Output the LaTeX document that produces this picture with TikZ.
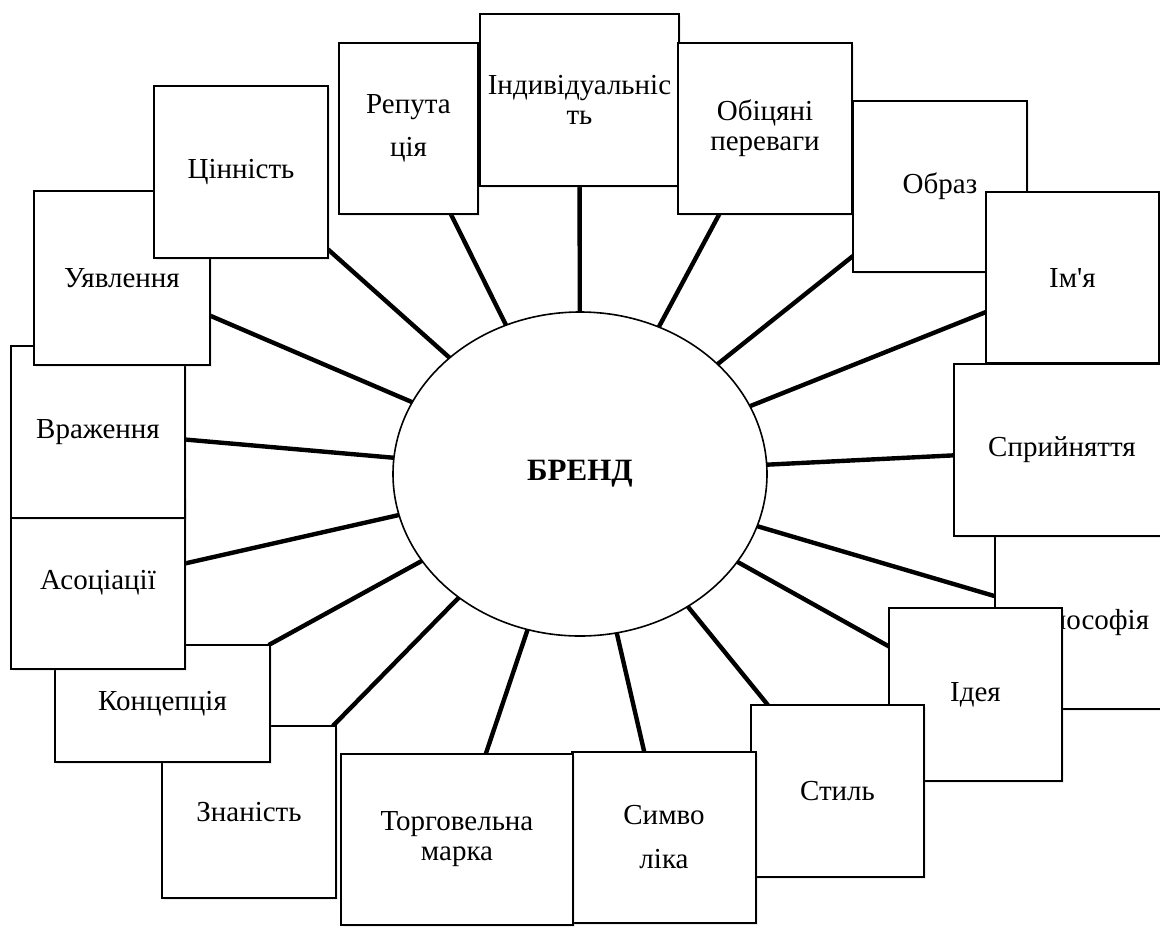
\documentclass[tikz,border=0pt]{standalone}
\usepackage{fontspec}
\setmainfont{Liberation Serif}
\usetikzlibrary{shapes.geometric,shadows,backgrounds}
\begin{document}
\begin{tikzpicture}[x=1pt,y=-1pt,
  card/.style={draw=black, line width=2.1pt, fill=white, inner sep=0pt,
    outer sep=0pt, align=center, font=\fontsize{29}{30}\selectfont,
    drop shadow={shadow xshift=1.5pt, shadow yshift=-1.5pt, opacity=0.15}},
  spoke/.style={line width=4.4pt},
  core/.style={ellipse, draw=black, line width=1.6pt, fill=white,
    minimum width=374, minimum height=324, inner sep=0pt, outer sep=0pt,
    font=\fontsize{31}{36}\selectfont\bfseries}]
\useasboundingbox (0,0) rectangle (1160,927);
\clip (0,0) rectangle (1160,927);

% left and bottom-left cards, back to front
\node[card, minimum width=174, minimum height=172] (znan) at (249,812) {Знаність};
\node[card, minimum width=215, minimum height=117] (konc) at (162.5,703.5) {Концепція};
\node[card, minimum width=174, minimum height=172] (asoc) at (98,583) {Асоціації};
\node[card, minimum width=174, minimum height=172] (vraz) at (98,432) {Враження};
\node[card, minimum width=176, minimum height=174] (uyav) at (122,278) {Уявлення};
\node[card, minimum width=174, minimum height=172] (cin) at (241,172) {Цінність};

% top row
\node[card, minimum width=139, minimum height=171] (rep) at (408.5,128.5) {Репута\\[13pt]ція};
\node[card, minimum width=199, minimum height=172] (indyv) at (579.5,100) {Індивідуальніс\\ть};
\node[card, minimum width=174, minimum height=171] (obic) at (765,128.5) {Обіцяні\\переваги};
\node[card, minimum width=174, minimum height=171] (obraz) at (940,186.5) {Образ};
\node[card, minimum width=173, minimum height=171] (imya) at (1072.5,277.5) {Ім\textquotesingle я};

% right and bottom-right cards, back to front
\node[card, minimum width=180, minimum height=173] (filo) at (1085,622.5) {Філософія};
\node[card, minimum width=216, minimum height=172] (spry) at (1062,450) {Сприйняття};
\node[card, minimum width=173, minimum height=173] (idea) at (975.5,694.5) {Ідея};
\node[card, minimum width=173, minimum height=172] (styl) at (837.5,791) {Стиль};
\node[card, minimum width=184, minimum height=171] (symb) at (664,837.5) {Симво\\[14pt]ліка};
\node[card, minimum width=232, minimum height=171] (torg) at (457,839.5) {Торговельна\\марка};

% central brand
\node[core] (brand) at (580,474) {БРЕНД};

% radial spokes behind everything
\begin{pgfonlayer}{background}
\foreach \b in {cin,uyav,vraz,asoc,konc,znan,torg,symb,styl,idea,filo,spry,imya,obraz,obic,indyv,rep}
  \draw[spoke] (brand) -- (\b);
\end{pgfonlayer}
\end{tikzpicture}
\end{document}
